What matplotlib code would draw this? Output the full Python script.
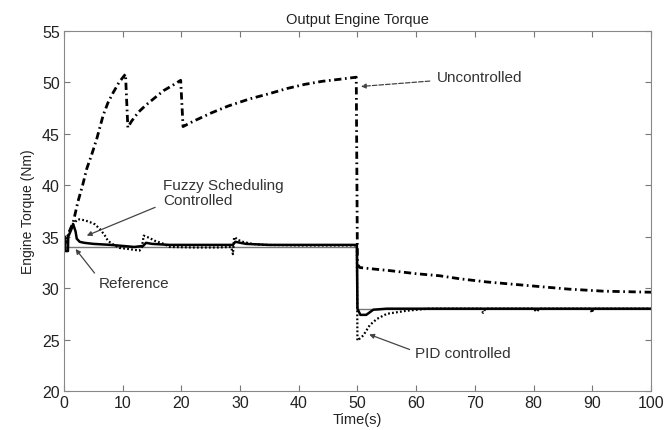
import matplotlib
matplotlib.use("Agg")
import matplotlib.pyplot as plt

plt.rcParams['font.family'] = ['Liberation Sans', 'DejaVu Sans']

# Reference torque
t_ref = [0, 50, 50, 100]
y_ref = [34.0, 34.0, 28.0, 28.0]

# Fuzzy scheduling controlled
t_fuzzy = [0, 0.2, 0.25, 0.7, 0.75, 1.2, 1.6, 2.0, 2.2, 2.7, 3.5, 5, 8, 10, 12,
           13.5, 14, 15, 18, 28.8, 29.2, 31, 35, 49.9, 50.0, 50.5, 51.5, 52.7, 55, 100]
y_fuzzy = [35.0, 35.0, 33.6, 33.6, 35.0, 35.6, 36.2, 35.5, 34.8, 34.5, 34.4, 34.3, 34.2, 34.1, 34.0,
           34.1, 34.4, 34.3, 34.2, 34.2, 34.5, 34.3, 34.2, 34.2, 28.0, 27.4, 27.4, 27.9, 28.0, 28.0]

# PID controlled
t_pid = [0, 0.5, 1.0, 1.5, 2.4, 3.5, 4.5, 5.3, 6.2, 7.0, 7.5, 8.5, 9.5, 11, 12.9,
         13.3, 13.6, 14.5, 15.5, 17, 18, 22, 26, 28.5, 28.8, 29.0, 29.2, 29.6, 30.5,
         32, 34, 40, 49.9, 50.0, 50.2, 51.0, 52.1, 53.3, 55, 58.4, 62, 71, 71.4, 71.8,
         80, 80.5, 81, 89.7, 89.9, 90.2, 100]
y_pid = [34.0, 34.8, 35.5, 36.2, 36.7, 36.6, 36.4, 36.2, 35.7, 35.1, 34.6, 34.2, 33.9, 33.8, 33.65,
         34.0, 35.1, 34.9, 34.6, 34.3, 34.0, 33.95, 33.95, 34.0, 33.3, 34.95, 34.9, 34.7, 34.5,
         34.3, 34.2, 34.15, 34.15, 24.9, 25.0, 25.4, 26.4, 27.0, 27.5, 27.8, 28.0, 28.0, 27.6, 28.0,
         28.0, 27.7, 28.0, 28.0, 27.6, 28.0, 28.0]

# Uncontrolled
t_unc = [0, 0.5, 1.0, 1.6, 2.4, 3.2, 3.9, 4.7, 5.6, 6.7, 7.5, 8.4, 9.4, 10.5, 10.9,
         11.5, 12.7, 14, 15.5, 17, 18.5, 19.9, 20.3, 22, 25, 28, 31.7, 35, 38, 41, 44,
         47, 49.8, 50.0, 50.4, 52, 55.5, 60, 64, 67.5, 72, 76, 80, 86, 92, 100]
y_unc = [34.0, 34.8, 35.6, 36.4, 38.4, 40.0, 41.6, 42.9, 44.5, 46.8, 48.0, 49.0, 50.0, 50.8, 45.6,
         46.2, 47.1, 47.8, 48.5, 49.2, 49.7, 50.2, 45.7, 46.2, 47.0, 47.7, 48.4, 48.9, 49.4, 49.8, 50.1,
         50.3, 50.5, 32.3, 32.0, 31.9, 31.7, 31.4, 31.2, 30.9, 30.6, 30.4, 30.2, 29.9, 29.7, 29.6]

fig = plt.figure(figsize=(6.65, 4.31), dpi=100)
ax = fig.add_axes([0.096, 0.0905, 0.883, 0.8355])

ax.plot(t_ref, y_ref, color='#777777', lw=1.0)
ax.plot(t_unc, y_unc, color='black', lw=2.0, ls=(0, (2.6, 1.3, 0.6, 1.3)))
ax.plot(t_pid, y_pid, color='black', lw=1.6, ls=(0, (0.8, 1.0)))
ax.plot(t_fuzzy, y_fuzzy, color='black', lw=1.8)

ax.set_xlim(0, 100)
ax.set_ylim(20, 55)
ax.set_xticks(range(0, 101, 10))
ax.set_yticks(range(20, 56, 5))
ax.tick_params(direction='in', top=True, right=True, length=4, color='#777777',
               labelsize=11.5, labelcolor='#222222', pad=3)
for s in ax.spines.values():
    s.set_color('#888888')

ax.set_title('Output Engine Torque', fontsize=10.5, pad=6, color='#222222')
ax.set_xlabel('Time(s)', fontsize=10.5, labelpad=1, color='#222222')
ax.set_ylabel('Engine Torque (Nm)', fontsize=10, labelpad=5, color='#222222')

txt = dict(fontsize=11, color='#333333')
ax.annotate('Uncontrolled', xy=(50.6, 49.6), xytext=(63.5, 50.5), va='center', **txt,
            arrowprops=dict(arrowstyle='-|>', color='#444444', lw=0.9, ls='--',
                            mutation_scale=7, shrinkA=3, shrinkB=0))
ax.annotate('Fuzzy Scheduling\nControlled', xy=(3.9, 35.1), xytext=(16.9, 39.3),
            va='center', linespacing=1.1, **txt,
            arrowprops=dict(arrowstyle='-|>', color='#444444', lw=0.9,
                            mutation_scale=7, shrinkA=4, shrinkB=0,
                            relpos=(0, 0.1)))
ax.annotate('Reference', xy=(2.0, 33.8), xytext=(6.0, 30.5), va='center', **txt,
            arrowprops=dict(arrowstyle='-|>', color='#444444', lw=0.9,
                            mutation_scale=7, shrinkA=2, shrinkB=0,
                            relpos=(0, 0.8)))
ax.annotate('PID controlled', xy=(52.0, 25.5), xytext=(59.8, 23.7), va='center', **txt,
            arrowprops=dict(arrowstyle='-|>', color='#444444', lw=0.9,
                            mutation_scale=7, shrinkA=2, shrinkB=0,
                            relpos=(0, 0.6)))

fig.savefig('out.png', dpi=100)
